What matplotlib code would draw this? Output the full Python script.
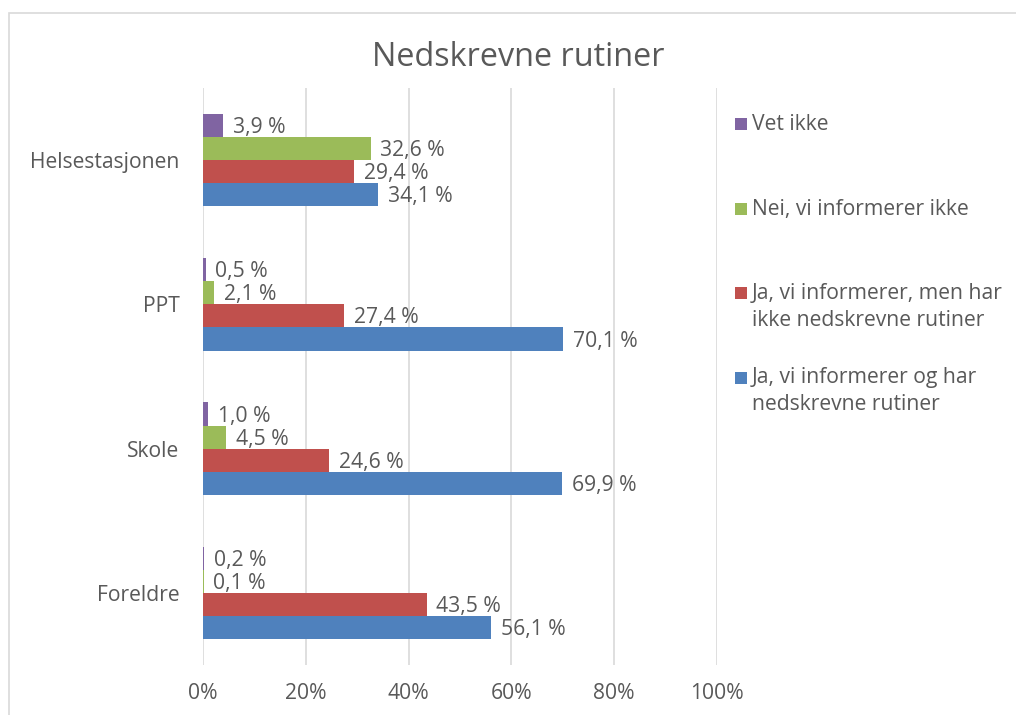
import matplotlib.pyplot as plt
from matplotlib.patches import Rectangle
import numpy as np

plt.rcParams['font.family'] = ['Open Sans', 'DejaVu Sans']

# kategorier (nederst forst, som i Excel)
kategorier = ['Foreldre', 'Skole', 'PPT', 'Helsestasjonen']

# serier, verdier i prosent
ja_har = [56.1, 69.9, 70.1, 34.1]
ja_ikke = [43.5, 24.6, 27.4, 29.4]
nei = [0.1, 4.5, 2.1, 32.6]
vet_ikke = [0.2, 1.0, 0.5, 3.9]

serier = [
    ('Ja, vi informerer og har\nnedskrevne rutiner', ja_har, '#4F81BD'),
    ('Ja, vi informerer, men har\nikke nedskrevne rutiner', ja_ikke, '#C0504D'),
    ('Nei, vi informerer ikke', nei, '#9BBB59'),
    ('Vet ikke', vet_ikke, '#8064A2'),
]

tekstfarge = '#595959'
gridfarge = '#D9D9D9'
fs = 15.2

W, H = 1016, 715
fig = plt.figure(figsize=(W/100, H/100), dpi=100)
ax = fig.add_axes([203/W, 1-665/H, 514/W, 577/H])

y = np.arange(len(kategorier))
h = 0.16
for i, (navn, verdier, farge) in enumerate(serier):
    pos = y - 1.5*h + i*h
    bars = ax.barh(pos, verdier, height=h, color=farge, label=navn, zorder=3)
    for b, v in zip(bars, verdier):
        ax.annotate(('%.1f %%' % v).replace('.', ','),
                    (b.get_width(), b.get_y() + b.get_height()/2),
                    xytext=(7, -1.5), textcoords='offset points',
                    va='center', ha='left', fontsize=fs, color=tekstfarge)

ax.set_xlim(0, 100)
ax.set_ylim(-0.5, len(kategorier) - 0.5)
ax.set_xticks(np.arange(0, 101, 20))
ax.set_xticklabels(['%d%%' % t for t in range(0, 101, 20)])
ax.set_yticks(y)
ax.set_yticklabels(kategorier)
ax.tick_params(length=0, labelsize=fs, labelcolor=tekstfarge)
ax.tick_params(axis='y', pad=17)
ax.tick_params(axis='x', pad=13)
ax.grid(axis='x', color=gridfarge, linewidth=1.2, zorder=0)
for s in ax.spines.values():
    s.set_visible(False)

# tittel
fig.text(518/W, 1-58/H, 'Nedskrevne rutiner', ha='center', va='center',
         fontsize=23.3, color=tekstfarge)

# legende (som i Excel: symbol ved forste linje, fast avstand)
for k, (navn, verdier, farge) in enumerate(serier[::-1]):
    yk = 124 + k*84.5
    fig.patches.append(Rectangle((735/W, 1-(yk+6)/H), 12/W, 12/H,
                                 transform=fig.transFigure,
                                 facecolor=farge, edgecolor='none'))
    fig.text(752/W, 1-(yk-10)/H, navn, ha='left', va='top', fontsize=fs,
             color=tekstfarge, linespacing=1.35)

# ramme rundt diagrammet
fig.patches.append(Rectangle((9/W, -0.1), 1.2, 1.1 - 13/H,
                             transform=fig.transFigure, fill=False,
                             edgecolor=gridfarge, linewidth=1.2))

fig.savefig('out.png', dpi=100)
